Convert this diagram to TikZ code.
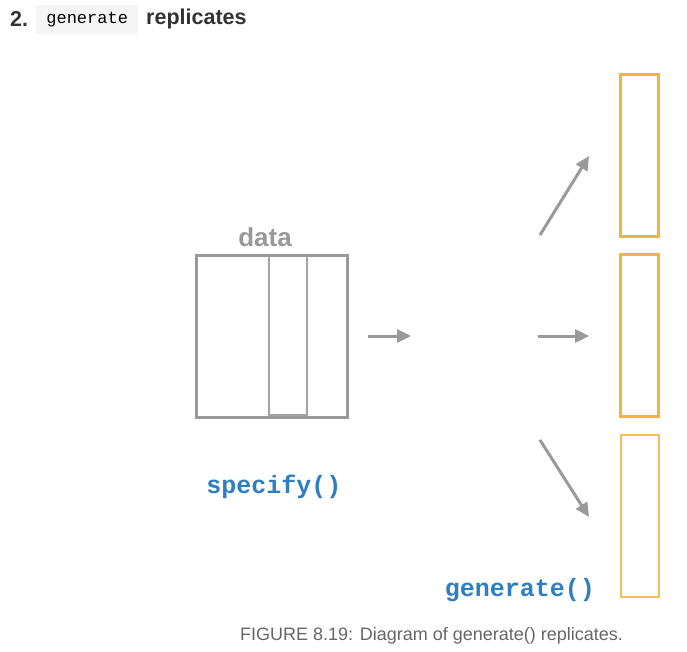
\documentclass[tikz,border=0pt]{standalone}
\usepackage{fontspec}
\setmainfont{Liberation Sans}
\newfontfamily\codefont{Liberation Mono}
\usetikzlibrary{arrows.meta}
\definecolor{linegray}{HTML}{999999}
\definecolor{boxorange}{HTML}{F2B43C}
\definecolor{codeblue}{HTML}{2E7EC1}
\definecolor{titlegray}{HTML}{333333}
\definecolor{capgray}{HTML}{666666}
\definecolor{codebg}{HTML}{F5F5F5}
\tikzset{
  grayline/.style={draw=linegray, line width=3pt},
  flowarrow/.style={draw=linegray, line width=3pt, -{Triangle[length=14pt,width=13pt]}},
  repbox/.style={draw=boxorange, line width=3pt, minimum width=38pt, minimum height=162pt, inner sep=0pt},
  fnlabel/.style={text=codeblue, font=\codefont\bfseries\fontsize{25}{28}\selectfont, inner sep=0pt},
}
\begin{document}
\begin{tikzpicture}[x=1pt,y=-1pt]
\useasboundingbox (0,0) rectangle (687,651);
% title
\node[anchor=west, inner sep=0pt, text=titlegray, font=\bfseries\fontsize{21.5}{24}\selectfont] (num) at (10,19) {2.};
\node[anchor=west, fill=codebg, minimum width=102pt, minimum height=29pt, inner sep=0pt, font=\codefont\fontsize{17}{20}\selectfont, text=black] (code) at (36,19.5) {generate};
\node[anchor=west, inner sep=0pt, text=titlegray, font=\bfseries\fontsize{21.5}{24}\selectfont] (rep) at (146,19) {replicates};
% data box
\node[grayline, minimum width=151pt, minimum height=162pt, inner sep=0pt] (data) at (271.5,336) {};
\draw[draw=linegray!90, line width=2.2pt] (269,256) -- (269,415) -- (307,415) -- (307,256);
\node[text=linegray, font=\bfseries\fontsize{26}{28}\selectfont, inner sep=0pt] (datalabel) at (265,237) {data};
\node[fnlabel] (specify) at (274,487) {specify()};
% arrows
\coordinate (a1s) at (368,336); \coordinate (a1e) at (411,336);
\coordinate (a2s) at (538,336); \coordinate (a2e) at (589,336);
\coordinate (a3s) at (540,235); \coordinate (a3e) at (589,156);
\coordinate (a4s) at (540,440); \coordinate (a4e) at (589,517);
\draw[flowarrow] (a1s) -- (a1e);
\draw[flowarrow] (a2s) -- (a2e);
\draw[flowarrow] (a3s) -- (a3e);
\draw[flowarrow] (a4s) -- (a4e);
% replicate boxes
\node[repbox] (r1) at (639.5,155.5) {};
\node[repbox] (r2) at (639.5,335.5) {};
\node[repbox, line width=2pt, draw=boxorange!85] (r3) at (639.5,516) {};
\node[fnlabel] (generate) at (520,590) {generate()};
% caption
\node[anchor=west, inner sep=0pt, text=capgray, font=\fontsize{18}{20}\selectfont] (caption) at (240,636) {FIGURE 8.19: Diagram of generate() replicates.};
\end{tikzpicture}
\end{document}
